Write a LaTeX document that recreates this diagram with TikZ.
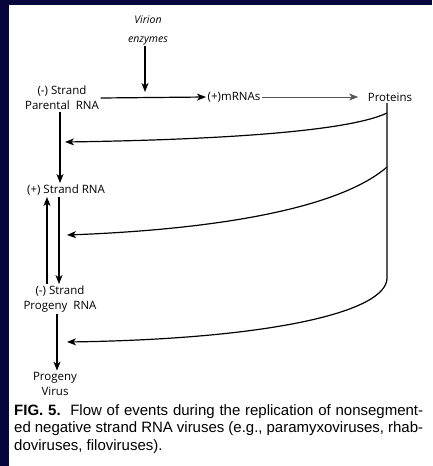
\documentclass[tikz,border=0pt]{standalone}
\usepackage{fontspec}
\setmainfont{Liberation Sans}
\newfontfamily\stagefont{Open Sans}
\usetikzlibrary{arrows.meta, calc}
\definecolor{slidenavy}{HTML}{06063C}
\definecolor{lightline}{HTML}{555555}

\begin{document}
\begin{tikzpicture}[
    x=1pt, y=-1pt,
    lbl/.style={inner sep=1.5pt, align=center, font=\stagefont\fontsize{11.5}{15}\selectfont},
    enz/.style={inner sep=1.5pt, align=center, font=\stagefont\itshape\fontsize{10.5}{19}\selectfont},
    arrow/.style={-{Stealth[length=9pt, width=7pt, inset=2.5pt]}, line width=1.2pt},
    thin arrow/.style={-{Stealth[length=9pt, width=7pt, inset=2.5pt]}, line width=0.8pt, color=lightline},
]

% Slide frame
\fill[slidenavy] (0,0) rectangle (432,466);
\fill[white] (9,5) rectangle (432,466);
\useasboundingbox (0,0) rectangle (432,466);

% Labels
\node[enz] (virion) at (148,30) {Virion\\enzymes};
\node[lbl] (parental) at (62,98) {(-) Strand\\Parental\ \ RNA};
\node[lbl] (mrna) at (234,97) {(+)mRNAs};
\node[lbl] (proteins) at (390,97) {Proteins};
\node[lbl] (plusrna) at (66,190) {(+) Strand RNA};
\node[lbl] (progenyrna) at (60,299) {(-) Strand\\Progeny\ \ RNA};
\node[lbl] (virus) at (55,384) {Progeny\\Virus};

% Points on the protein feedback line
\coordinate (drop) at (387,278);
\coordinate (b1) at (387,113);
\coordinate (b2) at (387,167);
\coordinate (t1) at (65,142);
\coordinate (t2) at (67,235);
\coordinate (t3) at (67,342);

% Transcription
\draw[arrow] (parental.east) -- (mrna.west);
\draw[arrow, shorten >=5pt] ([xshift=-3pt]virion.south) -- ([xshift=-3pt]virion.south |- mrna.west);
\draw[thin arrow, shorten >=8pt] (mrna.east) -- (proteins.west);

% Proteins feed back
\draw[arrow] (proteins.south -| drop) -- (drop) .. controls (387,312) and (270,339) .. (t3);
\draw[arrow] (b1) .. controls (345,133) and (200,140) .. (t1);
\draw[arrow] (b2) .. controls (335,212) and (200,230) .. (t2);

% Replication
\draw[arrow] ([xshift=-2pt]parental.south) -- ([xshift=-2pt]parental.south |- plusrna.north);
\draw[arrow] ([xshift=-7pt]plusrna.south) -- ([xshift=-7pt]plusrna.south |- progenyrna.north);
\draw[arrow] ([xshift=-13pt]progenyrna.north) -- ([xshift=-13pt]progenyrna.north |- plusrna.south);
\draw[arrow] ([xshift=-3pt]progenyrna.south) -- ([xshift=-3pt]progenyrna.south |- virus.north);

% Caption
\node[anchor=north west, inner sep=0, text width=409pt, align=justify,
      font=\frenchspacing\fontsize{15}{17.5}\selectfont] (caption) at (14,404)
      {\textbf{FIG. 5.}\ \ Flow of events during the replication of nonsegment-\linebreak
       ed negative strand RNA viruses (e.g., paramyxoviruses, rhab-\linebreak
       doviruses, filoviruses).};

\end{tikzpicture}
\end{document}
